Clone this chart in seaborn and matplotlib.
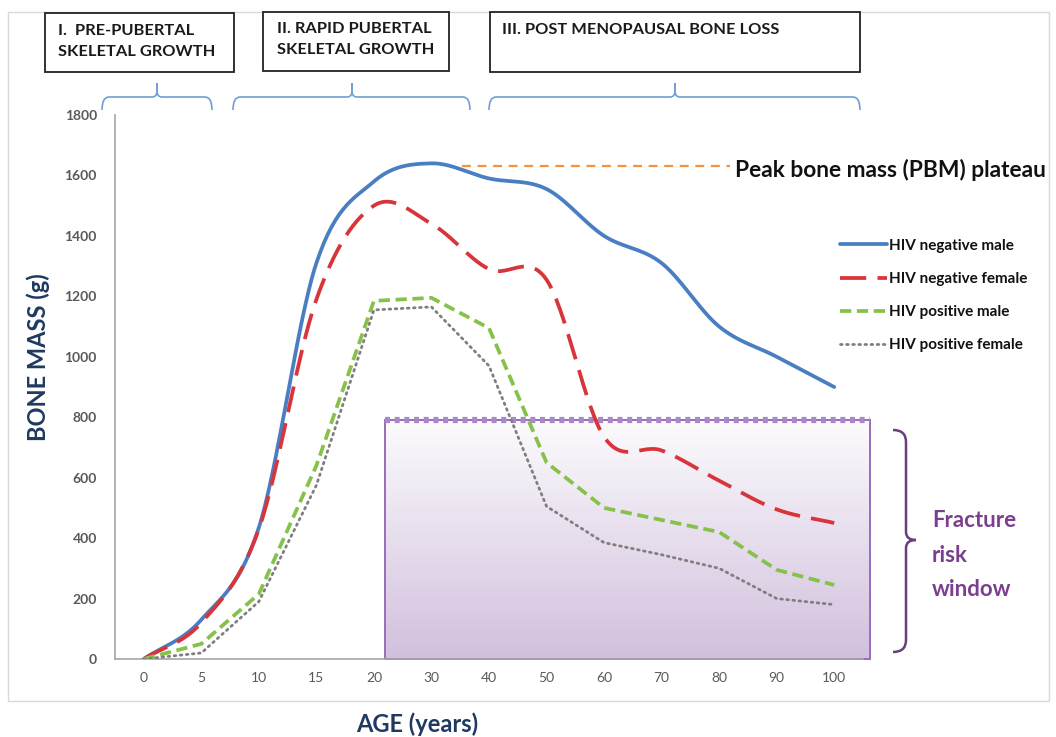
import numpy as np
import pandas as pd
import matplotlib
matplotlib.use("Agg")
import matplotlib.pyplot as plt
import seaborn as sns
from matplotlib.path import Path
from matplotlib.patches import PathPatch, Rectangle
from matplotlib.colors import LinearSegmentedColormap

# data
ages = ["0", "5", "10", "15", "20", "30", "40", "50", "60", "70", "80", "90", "100"]
hiv_neg_male = [0, 130, 435, 1310, 1580, 1640, 1590, 1555, 1400, 1310, 1100, 1000, 900]
hiv_neg_female = [0, 120, 430, 1190, 1500, 1440, 1290, 1255, 735, 690, 590, 495, 450]
hiv_pos_male = [0, 50, 215, 640, 1185, 1195, 1095, 650, 500, 460, 420, 295, 245]
hiv_pos_female = [0, 20, 190, 575, 1155, 1165, 970, 505, 385, 345, 300, 200, 180]
y_ticks = [0, 200, 400, 600, 800, 1000, 1200, 1400, 1600, 1800]
pbm_level = 1630
fracture_top = 790

NAVY = "#1F3A60"
TICK_GREY = "#595959"


def smooth(xs, ys, steps=30):
    # Excel-style smoothed line through the points (Catmull-Rom)
    xs = np.asarray(xs, float)
    ys = np.asarray(ys, float)
    px = np.concatenate([[2 * xs[0] - xs[1]], xs, [2 * xs[-1] - xs[-2]]])
    py = np.concatenate([[2 * ys[0] - ys[1]], ys, [2 * ys[-1] - ys[-2]]])
    t = np.linspace(0, 1, steps, endpoint=False)
    out_x, out_y = [], []
    for i in range(1, len(px) - 2):
        for p, out in ((px, out_x), (py, out_y)):
            p0, p1, p2, p3 = p[i - 1], p[i], p[i + 1], p[i + 2]
            out.extend(0.5 * (2 * p1 + (p2 - p0) * t + (2 * p0 - 5 * p1 + 4 * p2 - p3) * t ** 2
                              + (3 * p1 - p0 - 3 * p2 + p3) * t ** 3))
    out_x.append(xs[-1])
    out_y.append(ys[-1])
    return np.array(out_x), np.array(out_y)


sns.set_theme(style="white")
plt.rcParams["font.family"] = ["Lato", "DejaVu Sans"]

fig = plt.figure(figsize=(10.56, 7.37), dpi=100)
ax = fig.add_axes([115 / 1056, 1 - 659 / 737, 748 / 1056, 544 / 737])

pos = np.arange(len(ages))

# fracture risk window (gradient box)
box_x0, box_x1 = 4.19, 12.63
grad = np.linspace(0, 1, 256).reshape(-1, 1)
cmap = LinearSegmentedColormap.from_list("frac", ["#FCFBFD", "#D1C0DD"])
ax.imshow(grad, cmap=cmap, aspect="auto", extent=(box_x0, box_x1, 0, fracture_top),
          origin="upper", zorder=1, clip_on=False)
ax.add_patch(Rectangle((box_x0, 0), box_x1 - box_x0, fracture_top, fill=False,
                       edgecolor="#9A6DB8", lw=1.4, zorder=2, clip_on=False))
ax.plot([box_x0, box_x1], [fracture_top, fracture_top], color="#A888C8", lw=4.5,
        linestyle=(0, (0.8, 0.75)), solid_capstyle="butt", dash_capstyle="butt",
        zorder=2, clip_on=False)

# bone mass curves
bx, by = smooth(pos, hiv_neg_male)
sns.lineplot(x=bx, y=by, ax=ax, color="#4A7EC2", lw=2.7, label="HIV negative male",
             zorder=4, sort=False)
rx, ry = smooth(pos, hiv_neg_female)
sns.lineplot(x=rx, y=ry, ax=ax, color="#D8353A", lw=2.7, label="HIV negative female",
             linestyle=(0, (7, 3)), zorder=4, sort=False)
sns.lineplot(x=pos, y=hiv_pos_male, ax=ax, color="#86C24A", lw=2.7,
             label="HIV positive male", linestyle=(0, (3, 1.5)), zorder=4)
sns.lineplot(x=pos, y=hiv_pos_female, ax=ax, color="#7F7F7F", lw=2.0,
             label="HIV positive female", linestyle=(0, (0.6, 1.6)),
             dash_capstyle="round", zorder=4)

# peak bone mass plateau marker
ax.plot([5.53, 10.19], [pbm_level, pbm_level], color="#F7923A", lw=1.6,
        linestyle=(0, (4, 3)), zorder=3)

ax.set_xlim(-0.5, 12.5)
ax.set_ylim(0, 1800)
ax.set_xticks(pos)
ax.set_xticklabels(ages)
ax.set_yticks(y_ticks)
ax.set_yticklabels([str(v) for v in y_ticks])
ax.tick_params(axis="both", length=0)
ax.tick_params(axis="y", pad=13, labelsize=10, labelcolor=TICK_GREY)
ax.tick_params(axis="x", pad=9, labelsize=10, labelcolor=TICK_GREY)
for lab in ax.get_yticklabels():
    lab.set_fontweight("bold")
for side in ["top", "right"]:
    ax.spines[side].set_visible(False)
for side in ["left", "bottom"]:
    ax.spines[side].set_color("#A6A6A6")
    ax.spines[side].set_linewidth(1.2)
ax.set_xlabel("")
ax.set_ylabel("")

leg = ax.legend(loc="upper left", bbox_to_anchor=(826 / 1056, 1 - 225 / 737),
                bbox_transform=fig.transFigure, frameon=False, handlelength=3.1,
                handletextpad=0.15, labelspacing=1.25, prop={"weight": "bold", "size": 11})
for t in leg.get_texts():
    t.set_color("#111111")

# overlays in pixel coordinates for annotations
ov = fig.add_axes([0, 0, 1, 1], zorder=-1)
ov.set_xlim(0, 1056)
ov.set_ylim(737, 0)
ov.axis("off")
ov.patch.set_alpha(0)
ov.add_patch(Rectangle((8, 12), 1041, 689, fill=False, edgecolor="#D9D9D9", lw=1))

ov2 = fig.add_axes([0, 0, 1, 1], zorder=5)
ov2.set_xlim(0, 1056)
ov2.set_ylim(737, 0)
ov2.axis("off")
ov2.patch.set_alpha(0)

stages = [
    ((45, 13, 189, 59), (58, 24), "I.  PRE-PUBERTAL\nSKELETAL GROWTH"),
    ((263, 12, 186, 59), (277, 22), "II. RAPID PUBERTAL\nSKELETAL GROWTH"),
    ((490, 12, 370, 60), (502, 23), "III. POST MENOPAUSAL BONE LOSS"),
]
for (x, y, w, h), (tx, ty), txt in stages:
    ov2.add_patch(Rectangle((x, y), w, h, fill=True, facecolor="white",
                            edgecolor="#222222", lw=1.3))
    ov2.text(tx, ty, txt, ha="left", va="top", fontsize=11.8, fontweight="bold",
             color="#1A1A1A", linespacing=1.6)


def h_brace(a, x0, x1, xm, y_end=110, y_mid=97, y_tip=83, color="#6E9FD8"):
    codes = [Path.MOVETO, Path.CURVE3, Path.CURVE3, Path.LINETO, Path.CURVE3,
             Path.CURVE3, Path.LINETO]
    for xe, d in ((x0, 1), (x1, -1)):
        verts = [(xe, y_end), (xe, y_mid), (xe + 7 * d, y_mid), (xm - 5 * d, y_mid),
                 (xm, y_mid), (xm, y_mid - 6), (xm, y_tip)]
        a.add_patch(PathPatch(Path(verts, codes), fill=False, edgecolor=color, lw=1.2))


h_brace(ov2, 102, 212, 157)
h_brace(ov2, 233, 470, 352)
h_brace(ov2, 489, 860, 675)

# vertical brace for fracture window
vcodes = [Path.MOVETO, Path.CURVE3, Path.CURVE3, Path.LINETO, Path.CURVE3, Path.CURVE3]
for ye, d in ((430, 1), (652, -1)):
    vb = [(893, ye), (906, ye), (906, ye + 12 * d), (906, 540 - 8 * d), (906, 540), (916, 540)]
    ov2.add_patch(PathPatch(Path(vb, vcodes), fill=False, edgecolor="#6B3D7E", lw=1.8))

ov2.text(932, 510, "Fracture\nrisk\nwindow", ha="left", va="top", fontsize=16,
         fontweight="bold", color="#7A3F8E", linespacing=1.8)
ov2.text(735, 170, "Peak bone mass (PBM) plateau", ha="left", va="center", fontsize=16.4,
         fontweight="bold", color="#111111")
ov2.text(38, 357, "BONE MASS (g)", rotation=90, ha="center", va="center", fontsize=17,
         fontweight="bold", color=NAVY)
ov2.text(417, 724, "AGE (years)", ha="center", va="center", fontsize=17,
         fontweight="bold", color=NAVY)

fig.savefig("out.png", dpi=100)
